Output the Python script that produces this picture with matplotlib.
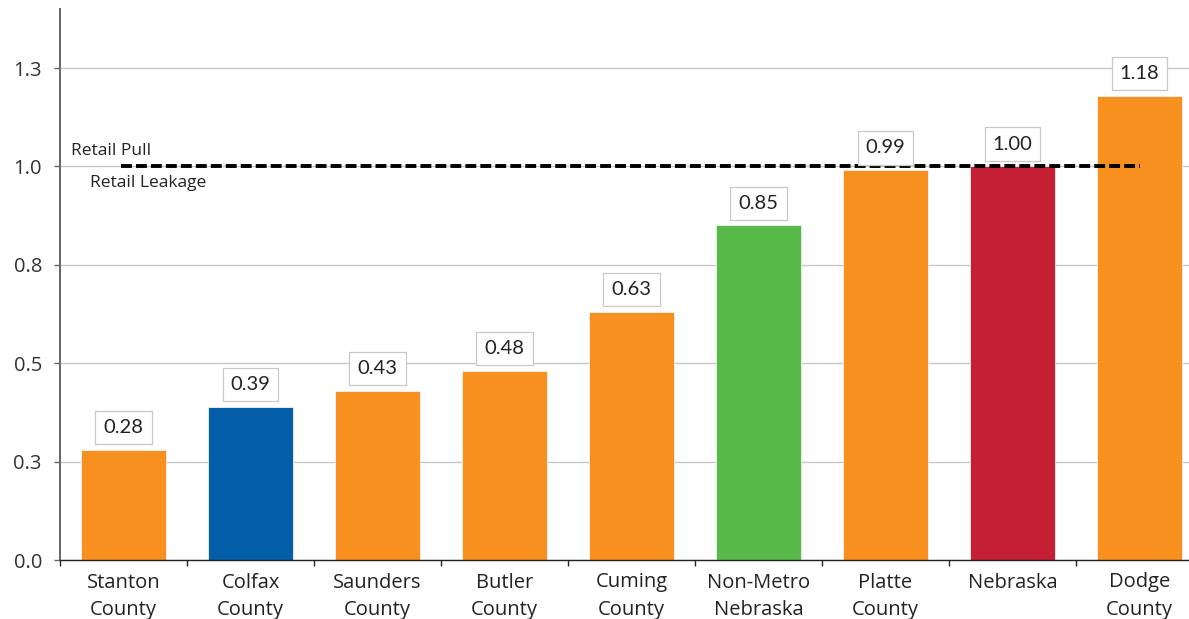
import matplotlib
matplotlib.use("Agg")
import matplotlib.pyplot as plt
import numpy as np

# Retail pull factor by area
categories = ["Stanton\nCounty", "Colfax\nCounty", "Saunders\nCounty", "Butler\nCounty",
              "Cuming\nCounty", "Non-Metro\nNebraska", "Platte\nCounty", "Nebraska",
              "Dodge\nCounty"]
values = [0.28, 0.39, 0.43, 0.48, 0.63, 0.85, 0.99, 1.00, 1.18]
bar_colors = ["#F7901E", "#045DA8", "#F7901E", "#F7901E", "#F7901E",
              "#57B947", "#F7901E", "#C41F33", "#F7901E"]
ytick_vals = [0.0, 0.25, 0.5, 0.75, 1.0, 1.25]
ytick_labels = ["0.0", "0.3", "0.5", "0.8", "1.0", "1.3"]

TICK_FONT = "Open Sans"
VALUE_FONT = "Lato"

fig = plt.figure(figsize=(11.89, 6.19), dpi=100)
ax = fig.add_axes([60 / 1189, 59 / 619, 1143 / 1189, 551 / 619])

x = np.arange(len(categories))
ax.bar(x, values, width=0.67, color=bar_colors, edgecolor="#f2f2f2", lw=0.6, zorder=2)

for xi, v in zip(x, values):
    ax.annotate(f"{v:.2f}", (xi, v), xytext=(0, 10), textcoords="offset points",
                ha="center", va="bottom", fontsize=14.5, family=VALUE_FONT, color="#222222",
                bbox=dict(boxstyle="square,pad=0.4", fc="white", ec="#c8c8c8", lw=0.9),
                zorder=4)

# break-even line
ax.plot([-0.02, 8], [1.0, 1.0], color="black", lw=2.8, ls=(0, (2.8, 1.05)), zorder=3)
ax.text(-0.41, 1.038, "Retail Pull", ha="left", va="center", fontsize=12.5,
        family=TICK_FONT, color="#222222")
ax.text(-0.265, 0.957, "Retail Leakage", ha="left", va="center", fontsize=12.5,
        family=TICK_FONT, color="#222222")

ax.set_xlim(-0.5, len(categories) - 0.5)
ax.set_ylim(0, 1.4)
ax.set_yticks(ytick_vals)
ax.set_yticklabels(ytick_labels, family=TICK_FONT, fontsize=14.5, color="#333333")
ax.set_xticks(x)
ax.set_xticklabels(categories, family=TICK_FONT, fontsize=14.5, color="#222222",
                   linespacing=1.5)
ax.set_xticks(np.arange(-0.5, len(categories)), minor=True)
ax.tick_params(axis="x", which="major", length=0, pad=9)
ax.tick_params(axis="x", which="minor", length=4, width=1, color="#222222")
ax.tick_params(axis="y", length=4, width=1, color="#666666", pad=9)

ax.grid(axis="y", color="#c8c8c8", lw=1, zorder=0)
ax.set_axisbelow(True)
for side in ("top", "right"):
    ax.spines[side].set_visible(False)
ax.spines["left"].set_color("#666666")
ax.spines["left"].set_linewidth(1.4)
ax.spines["bottom"].set_color("#222222")
ax.spines["bottom"].set_linewidth(1.0)

fig.savefig("out.png", dpi=100)
